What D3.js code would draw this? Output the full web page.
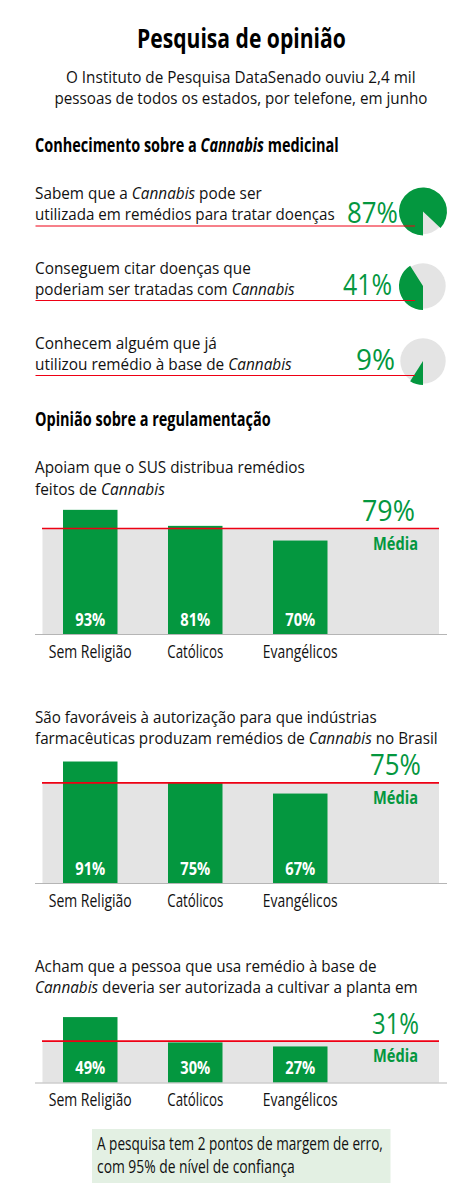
<!DOCTYPE html>
<html>
<head>
    <meta charset="utf-8" />
    <title>Pesquisa de opinião</title>
    <style>
        body { margin: 0; background: #fff; }
        svg { display: block; }
        svg text { font-family: "Open Sans", sans-serif; fill: #111; }
        .narrow, .narrow text { font-family: "Liberation Sans Narrow", "Open Sans", sans-serif; }
    </style>
    <script src="https://d3js.org/d3.v7.min.js"></script>
</head>
<body>
<script>
    // [text, italic] runs per line
    const title = "Pesquisa de opinião";
    const intro = ["O Instituto de Pesquisa DataSenado ouviu 2,4 mil", "pessoas de todos os estados, por telefone, em junho"];
    const heading1 = [["Conhecimento sobre a "], ["Cannabis", 1], [" medicinal"]];
    const heading2 = [["Opinião sobre a regulamentação"]];

    const pieValues = [87, 41, 9];
    const pieLabels = [
        [[["Sabem que a "], ["Cannabis", 1], [" pode ser"]], [["utilizada em remédios para tratar doenças"]]],
        [[["Conseguem citar doenças que"]], [["poderiam ser tratadas com "], ["Cannabis", 1]]],
        [[["Conhecem alguém que já"]], [["utilizou remédio à base de "], ["Cannabis", 1]]]
    ];

    const religions = ["Sem Religião", "Católicos", "Evangélicos"];
    const religionWidths = [83, 56, 75];
    const barValues = [[93, 81, 70], [91, 75, 67], [49, 30, 27]];
    const means = [79, 75, 31];
    const barTitles = [
        [[["Apoiam que o SUS distribua remédios"]], [["feitos de "], ["Cannabis", 1]]],
        [[["São favoráveis à autorização para que indústrias"]], [["farmacêuticas produzam remédios de "], ["Cannabis", 1], [" no Brasil"]]],
        [[["Acham que a pessoa que usa remédio à base de"]], [["Cannabis", 1], [" deveria ser autorizada a cultivar a planta em"]]]
    ];
    const note = ["A pesquisa tem 2 pontos de margem de erro,", "com 95% de nível de confiança"];

    const green = "#04973f", grey = "#e4e4e4", red = "#ee0014";

    const svg = d3.select("body").append("svg").attr("width", 475).attr("height", 1189);

    // writes a line of text and squeezes it to the wanted width (the original face is narrower)
    function put(g, runs, x, y, width, opt = {}) {
        if (typeof runs === "string") runs = [[runs]];
        const t = g.append("text")
            .attr("font-size", opt.size || 16.5)
            .attr("font-weight", opt.bold ? 700 : 400)
            .attr("class", opt.narrow ? "narrow" : null)
            .style("fill", opt.fill || null);
        t.selectAll("tspan").data(runs).join("tspan")
            .attr("font-style", d => d[1] ? "italic" : "normal")
            .attr("xml:space", "preserve")
            .text(d => d[0]);
        const w = t.node().getComputedTextLength();
        const k = width ? width / w : 1;
        const anchor = opt.anchor === "middle" ? (width || w) / 2 : 0;
        t.attr("transform", `translate(${x - anchor},${y}) scale(${k},1)`);
        return t;
    }

    put(svg, title, 241.5, 47.5, 209, { size: 27, bold: true, narrow: true, anchor: "middle", fill: "#000" });
    put(svg, intro[0], 241, 83, 350, { anchor: "middle" });
    put(svg, intro[1], 241, 104, 373, { anchor: "middle" });

    put(svg, heading1, 35, 152, 304, { size: 19, bold: true, narrow: true, fill: "#000" });
    put(svg, heading2, 35, 426, 236, { size: 19, bold: true, narrow: true, fill: "#000" });

    // pies, clockwise from six o'clock
    const arc = d3.arc().innerRadius(0).outerRadius(24);
    const pieRows = [
        { y: 211.5, widths: [227, 300], base: [199, 220], lineY: 226, pct: [347, 398, 223] },
        { y: 286, widths: [216, 260], base: [274, 295], lineY: 300.5, pct: [343, 392, 295] },
        { y: 361, widths: [182, 257], base: [349, 370], lineY: 375.5, pct: [356, 395, 369.5] }
    ];
    const pieAngle = d3.scaleLinear().domain([0, 100]).range([0, 2 * Math.PI]);

    pieValues.forEach((v, i) => {
        const r = pieRows[i], g = svg.append("g");
        g.append("circle").attr("cx", 423).attr("cy", r.y).attr("r", 22.7).attr("fill", grey);
        g.append("path")
            .attr("transform", `translate(423,${r.y})`)
            .attr("fill", green)
            .attr("d", arc({ startAngle: Math.PI, endAngle: Math.PI + pieAngle(v) }));
        g.append("line")
            .attr("x1", 35.5).attr("x2", 415)
            .attr("y1", r.lineY).attr("y2", r.lineY)
            .attr("stroke", red).attr("stroke-width", 1);
        put(g, pieLabels[i][0], 35, r.base[0], r.widths[0]);
        put(g, pieLabels[i][1], 35, r.base[1], r.widths[1]);
        put(g, v + "%", r.pct[0], r.pct[2], r.pct[1] - r.pct[0], { size: 29, fill: green });
    });

    // bar panels
    const x = d3.scaleBand().domain(religions).range([63, 327.5]).paddingInner(0.481);
    const y = d3.scaleLinear().domain([0, 100]).range([0, 133.5]);
    const panels = [
        { base: 634, titleY: [473, 494.5], titleW: [270, 130], meanX: 388.5, meanW: 53 },
        { base: 883, titleY: [722.5, 743.5], titleW: [342, 403], meanX: 395.5, meanW: 51 },
        { base: 1082.5, titleY: [972, 993], titleW: [342, 383], meanX: 395.5, meanW: 47 }
    ];

    barValues.forEach((vals, i) => {
        const p = panels[i];
        const g = svg.append("g");
        put(g, barTitles[i][0], 35, p.titleY[0], p.titleW[0]);
        put(g, barTitles[i][1], 35, p.titleY[1], p.titleW[1]);

        const meanY = p.base - y(means[i]);
        g.append("rect")
            .attr("x", 42.5).attr("width", 396.5)
            .attr("y", meanY).attr("height", y(means[i]))
            .attr("fill", grey);

        g.selectAll(".bar").data(vals).join("rect")
            .attr("class", "bar")
            .attr("x", (d, j) => x(religions[j]))
            .attr("width", x.bandwidth())
            .attr("y", d => p.base - y(d))
            .attr("height", d => y(d))
            .attr("fill", green);

        vals.forEach((d, j) => {
            put(g, d + "%", x(religions[j]) + x.bandwidth() / 2, p.base - 8.5, 30, { size: 17.5, bold: true, narrow: true, anchor: "middle", fill: "#fff" });
        });

        g.append("line")
            .attr("x1", 42).attr("x2", 439)
            .attr("y1", meanY).attr("y2", meanY)
            .attr("stroke", red).attr("stroke-width", 1.6);

        put(g, means[i] + "%", p.meanX, meanY - 7.5, p.meanW, { size: 29, anchor: "middle", fill: green });
        put(g, "Média", 395.5, meanY + 21, 45, { size: 18, bold: true, narrow: true, anchor: "middle", fill: green });

        const axis = g.append("g")
            .attr("class", "narrow")
            .attr("transform", `translate(0,${p.base})`)
            .call(d3.axisBottom(x).tickSize(0).tickPadding(0));
        axis.select(".domain").remove();
        axis.selectAll("text")
            .attr("font-size", 18)
            .attr("dy", null)
            .attr("y", 24)
            .attr("transform", function (d, j) {
                return `scale(${religionWidths[j] / this.getComputedTextLength()},1)`;
            });
        g.append("line")
            .attr("x1", 35).attr("x2", 447)
            .attr("y1", p.base + 0.5).attr("y2", p.base + 0.5)
            .attr("stroke", "#b5b5b5").attr("stroke-width", 1);
    });

    // note box
    svg.append("rect").attr("x", 92).attr("y", 1129).attr("width", 298.5).attr("height", 54).attr("fill", "#e3f0e3");
    put(svg, note[0], 97, 1150, 286, { size: 17.5, narrow: true });
    put(svg, note[1], 97, 1173, 198, { size: 17.5, narrow: true });
</script>
</body>
</html>
